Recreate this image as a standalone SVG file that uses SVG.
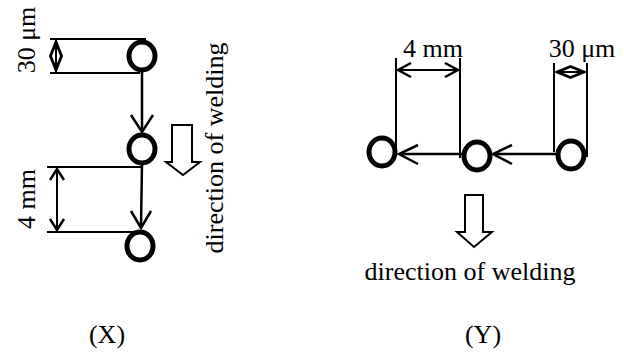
<svg xmlns="http://www.w3.org/2000/svg" width="624" height="354" viewBox="0 0 624 354">
<style>
.t{font-family:"Liberation Serif","Times New Roman",serif;font-size:26px;fill:#000}
.c{fill:none;stroke:#000;stroke-width:5}
.thin{fill:none;stroke:#000;stroke-width:2;stroke-linecap:butt}
.dia{fill:none;stroke:#000;stroke-width:2.8;stroke-linejoin:miter}
.conn{fill:none;stroke:#000;stroke-width:2.5}
.head{fill:none;stroke:#000;stroke-width:2.5;stroke-linejoin:miter}
.hollow{fill:#fff;stroke:#000;stroke-width:2;stroke-linejoin:miter}
</style>
<rect width="624" height="354" fill="#fff"/>

<!-- Panel X -->
<g id="x-dimensions">
  <line class="thin" x1="50" y1="39" x2="146" y2="39"/>
  <line class="thin" x1="50" y1="73" x2="140" y2="73"/>
  <line class="thin" x1="56" y1="40" x2="56" y2="72"/>
  <polygon class="dia" points="56,42 61.5,56 56,70 50.5,56"/>
  <line class="thin" x1="47" y1="167" x2="142" y2="167"/>
  <line class="thin" x1="47" y1="232" x2="138" y2="232"/>
  <line class="thin" x1="57" y1="169" x2="57" y2="230"/>
  <polyline class="head" points="50,180 57,169 64,180"/>
  <polyline class="head" points="50,219 57,230 64,219"/>
  <text class="t" text-anchor="middle" transform="translate(35,40) rotate(-90)">30 μm</text>
  <text class="t" text-anchor="middle" transform="translate(35,199) rotate(-90)">4 mm</text>
</g>
<g id="x-spot1"><ellipse class="c" cx="142" cy="56" rx="13" ry="14"/></g>
<g id="x-spot2"><ellipse class="c" cx="142" cy="149" rx="13" ry="14"/></g>
<g id="x-spot3"><ellipse class="c" cx="140" cy="246" rx="13" ry="14"/></g>
<g id="x-direction">
  <polygon class="hollow" points="172,125 192,125 192,162 200,162 183,175 166,162 172,162"/>
  <text class="t" text-anchor="middle" transform="translate(223,148) rotate(-90)">direction of welding</text>
</g>
<text class="t" x="107" y="343" text-anchor="middle">(X)</text>

<!-- Panel Y -->
<g id="y-dimensions">
  <line class="thin" x1="396" y1="58" x2="396" y2="152"/>
  <line class="thin" x1="460" y1="58" x2="460" y2="158"/>
  <line class="thin" x1="554" y1="63" x2="554" y2="152"/>
  <line class="thin" x1="587" y1="63" x2="587" y2="157"/>
  <line class="thin" x1="398" y1="70" x2="458" y2="70"/>
  <polyline class="head" points="411,63 398,70 411,77"/>
  <polyline class="head" points="445,63 458,70 445,77"/>
  <line class="thin" x1="556" y1="72" x2="585" y2="72"/>
  <polygon class="dia" points="557,72 570.5,66.5 584,72 570.5,77.5"/>
  <text class="t" x="433" y="57" text-anchor="middle">4 mm</text>
  <text class="t" x="582" y="57" text-anchor="middle">30 μm</text>
</g>
<g id="y-spot1"><ellipse class="c" cx="382" cy="152" rx="13" ry="14"/></g>
<g id="y-spot2"><ellipse class="c" cx="477" cy="156" rx="13" ry="14"/></g>
<g id="y-spot3"><ellipse class="c" cx="571" cy="155" rx="13" ry="14"/></g>
<g id="y-direction">
  <polygon class="hollow" points="465,195 483,195 483,232 492,232 474,247 457,232 465,232"/>
  <text class="t" x="470" y="280" text-anchor="middle">direction of welding</text>
</g>
<text class="t" x="483" y="343" text-anchor="middle">(Y)</text>

<g id="connectors">
  <line class="conn" x1="142" y1="70" x2="142" y2="131"/>
  <polyline class="head" points="131,115 142,132 153,115"/>
  <line class="conn" x1="142" y1="163" x2="141" y2="227"/>
  <polyline class="head" points="131,211 141,228 151,211"/>
  <line class="conn" x1="557" y1="154" x2="495" y2="154"/>
  <polyline class="head" points="512,145 493,154 512,164"/>
  <line class="conn" x1="462" y1="154" x2="401" y2="154"/>
  <polyline class="head" points="418,145 399,154 418,164"/>
</g>
</svg>
